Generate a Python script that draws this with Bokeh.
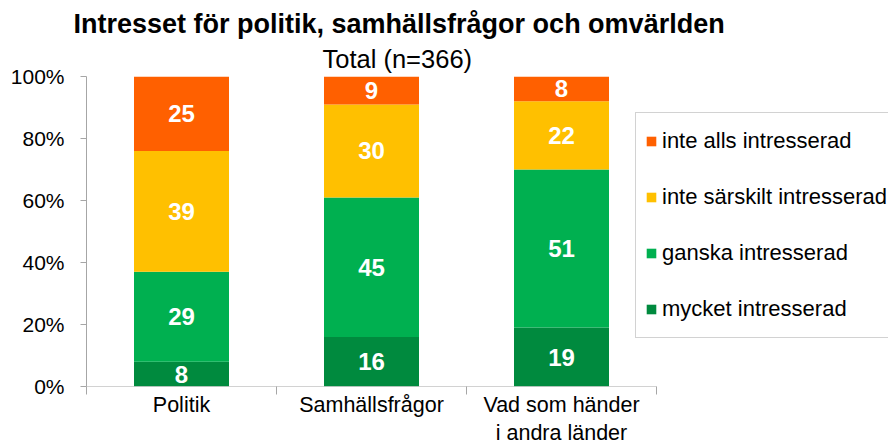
from bokeh.plotting import figure
from bokeh.models import (ColumnDataSource, Range1d, FixedTicker, Legend, LegendItem,
                          LabelSet, Title)
from bokeh.core.properties import value
from bokeh.embed import file_html
from bokeh.resources import INLINE

categories = ["Politik", "Samhällsfrågor", "Vad som händer\ni andra länder"]
series = ["mycket intresserad", "ganska intresserad", "inte särskilt intresserad", "inte alls intresserad"]
mycket = [8, 16, 19]
ganska = [29, 45, 51]
inte_sarskilt = [39, 30, 22]
inte_alls = [25, 9, 8]
colors = ["#008A3E", "#00B050", "#FFC000", "#FF6000"]
y_ticks = [0, 20, 40, 60, 80, 100]

FONT = "Liberation Sans"
AXIS_GRAY = "#A6A6A6"

n = len(categories)
xs = [i + 0.5 for i in range(n)]
values = [mycket, ganska, inte_sarskilt, inte_alls]

# frame spans the full width to the right; categories occupy the left part
FRAME_W = 802
CAT_W = 190
p = figure(width=888, height=448, output_backend="svg", toolbar_location=None,
           x_range=Range1d(0, FRAME_W / CAT_W), y_range=Range1d(0, 100),
           min_border_left=86, min_border_right=0, min_border_top=76, min_border_bottom=60)
p.outline_line_color = None
p.grid.grid_line_color = None

renderers = []
bottoms = [0] * n
for name, vals, col in zip(series, values, colors):
    tops = [b + v for b, v in zip(bottoms, vals)]
    mids = [(b + min(t, 100)) / 2 for b, t in zip(bottoms, tops)]
    src = ColumnDataSource(dict(x=xs, bottom=bottoms, top=tops, mid=mids,
                                lab=[str(v) for v in vals]))
    r = p.vbar(x="x", bottom="bottom", top="top", width=0.5, source=src,
               fill_color=col, line_color=None)
    renderers.append((name, r))
    p.add_layout(LabelSet(x="x", y="mid", text="lab", source=src, text_color="white",
                          text_font=value(FONT), text_font_size="24px", text_font_style="bold",
                          text_align="center", text_baseline="middle"))
    bottoms = tops

# baseline of the category axis (only under the categories)
p.segment(x0=[0], y0=[0], x1=[n], y1=[0], line_color=AXIS_GRAY, line_width=1)

# y axis
p.yaxis.ticker = FixedTicker(ticks=y_ticks)
p.yaxis.major_label_overrides = {t: f"{t}%" for t in y_ticks}
p.yaxis.major_label_text_font = FONT
p.yaxis.major_label_text_font_size = "21px"
p.yaxis.major_label_text_color = "#000000"
p.yaxis.axis_line_color = AXIS_GRAY
p.yaxis.major_tick_line_color = AXIS_GRAY
p.yaxis.major_tick_out = 6
p.yaxis.major_tick_in = 0
p.yaxis.minor_tick_line_color = None
p.yaxis.major_label_standoff = 16

# x axis: labels at centers, tick marks at category boundaries
p.xaxis.ticker = FixedTicker(ticks=xs, minor_ticks=list(range(n + 1)))
p.xaxis.major_label_overrides = {x: c for x, c in zip(xs, categories)}
p.xaxis.major_label_text_font = FONT
p.xaxis.major_label_text_font_size = "21.5px"
p.xaxis.major_label_text_color = "#000000"
p.xaxis.axis_line_color = None
p.xaxis.major_tick_line_color = None
p.xaxis.major_tick_out = 0
p.xaxis.major_tick_in = 0
p.xaxis.minor_tick_line_color = AXIS_GRAY
p.xaxis.minor_tick_out = 8
p.xaxis.minor_tick_in = 0
p.xaxis.major_label_standoff = -2

# legend
items = [LegendItem(label=nm, renderers=[r]) for nm, r in reversed(renderers)]
legend = Legend(items=items, location=(549, 48), orientation="vertical",
                label_text_font=FONT, label_text_font_size="22px", label_text_color="#000000",
                glyph_width=12, glyph_height=12, label_height=38, spacing=18, padding=9, margin=0,
                label_standoff=5, border_line_color="#A6A6A6", background_fill_alpha=1)
p.add_layout(legend, "center")

# titles
p.add_layout(Title(text="Total (n=366)", align="left", offset=236, text_font=FONT,
                   text_font_size="25.5px", text_font_style="normal", text_color="#000000",
                   standoff=7), "above")
p.add_layout(Title(text="Intresset för politik, samhällsfrågor och omvärlden", align="left",
                   offset=-13, text_font=FONT, text_font_size="27px", text_font_style="bold",
                   text_color="#000000", standoff=2), "above")

open("out.html", "w").write(file_html(p, INLINE))
